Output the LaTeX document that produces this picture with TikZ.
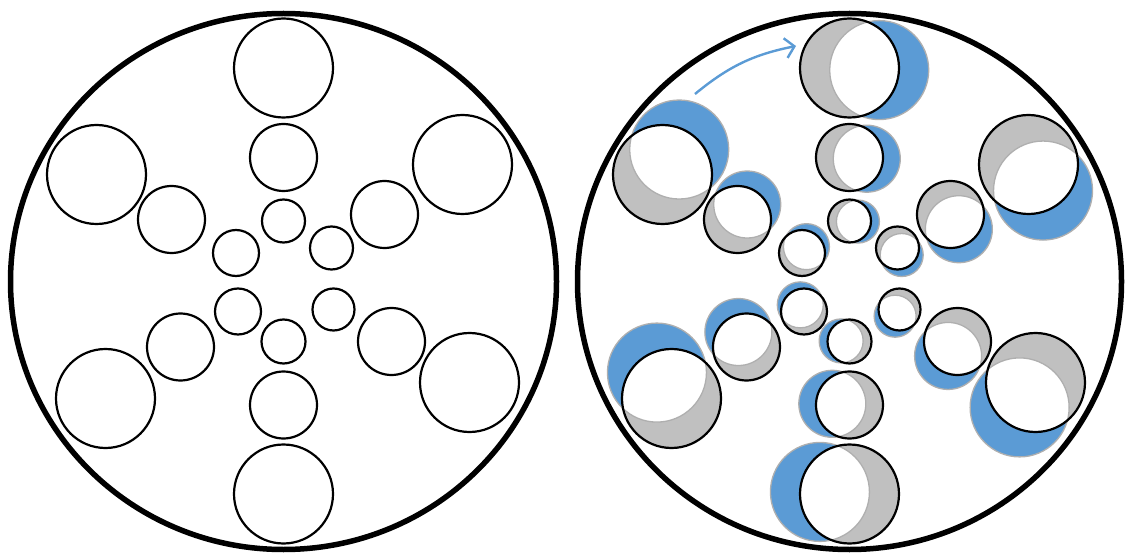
\documentclass[tikz,border=0pt]{standalone}
\usepackage{xcolor}
\definecolor{spinblue}{RGB}{91,155,213}
\definecolor{spingray}{RGB}{192,192,192}
\definecolor{spinedge}{RGB}{175,175,175}
\usetikzlibrary{arrows.meta}

% hole offsets from the wheel centre: dx/dy/radius
\def\holelist{0/-213.5/49.5, 0/-124/33.5, 0/-60.5/21.5,
  -187/-107/49.5, -112/-62/33.5, -47.5/-28.5/23,
  179/-117/49.5, 101/-67/33.5, 48/-33.5/21.5,
  186/101/49.5, 108/60/33.5, 50/28/21,
  0/212.5/49.5, 0/123.5/33.5, 0/60/22,
  -178/117/49.5, -103/65.5/33.5, -45.5/30/23}

\begin{document}
\begin{tikzpicture}[x=1pt, y=-1pt,
    rim/.style={line width=5.5pt},
    hole/.style={line width=2.2pt},
    ghost/.style={draw=spinedge, line width=1.3pt}]
  \useasboundingbox (0,0) rectangle (1125,556);
  \coordinate (lc) at (283.5,281.5);
  \coordinate (rc) at (849.5,281.5);

  % Left wheel: holes at rest
  \begin{scope}[shift={(lc)}]
    \foreach \dx/\dy/\r in \holelist {
      \draw[hole] (\dx,\dy) circle (\r);
    }
  \end{scope}
  \draw[rim] (lc) ellipse [x radius=273, y radius=268];

  % Right wheel: holes turned a little clockwise
  \begin{scope}[shift={(rc)}]
    \foreach \dx/\dy/\r in \holelist {
      \path[rotate=-8] (\dx,\dy) coordinate (moved);
      \fill[spinblue, ghost] (moved) circle (\r);
      \fill[spingray] (\dx,\dy) circle (\r);
      \begin{scope}
        \clip (\dx,\dy) circle (\r);
        \fill[white, ghost] (moved) circle (\r);
      \end{scope}
      \draw[hole] (\dx,\dy) circle (\r);
    }
  \end{scope}
  \draw[rim] (rc) ellipse [x radius=272, y radius=268];

  % turning arrow
  \coordinate (turnfrom) at (695,94);
  \coordinate (turnto) at (796,46);
  \draw[spinblue, line width=2.4pt, -{Straight Barb[length=9pt, width=20pt]}]
    (turnfrom) to[bend left=14] (turnto);
\end{tikzpicture}
\end{document}
